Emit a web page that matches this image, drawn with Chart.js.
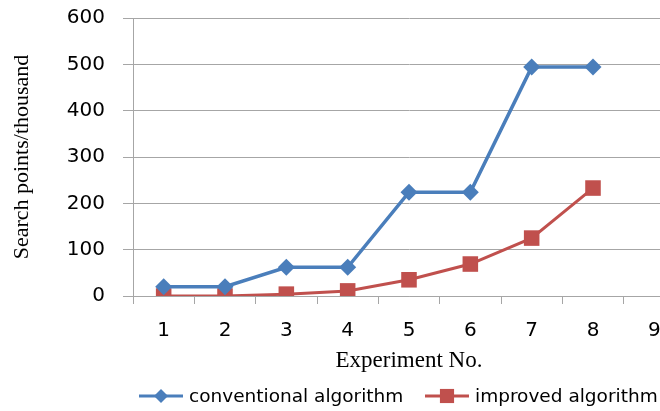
<!DOCTYPE html>
<html>
<head>
<meta charset="utf-8">
<script src="https://cdn.jsdelivr.net/npm/chart.js@4"></script>
<style>
  html, body { margin: 0; padding: 0; background: #fff; overflow: hidden; }
  #wrap { width: 696px; height: 411px; }
</style>
</head>
<body>
<div id="wrap"><canvas id="chart" width="696" height="411"></canvas></div>
<script>
const experiments = ['1', '2', '3', '4', '5', '6', '7', '8', '9'];
const conventional = [20, 20, 62, 62, 224, 224, 494, 494];
const improved = [0, 0, 4, 11, 35, 69, 125, 233];
const yTicks = [0, 100, 200, 300, 400, 500, 600];

const blue = '#4a7ebb';
const red = '#c0504d';
const gridGray = '#a6a6a6';

// legend drawn by hand: line with marker, then text
const lineLegend = {
  id: 'lineLegend',
  afterDraw(chart) {
    const ctx = chart.ctx;
    const y = 396;
    const items = [
      { x: 139, ds: chart.data.datasets[0], r: 7 },
      { x: 425, ds: chart.data.datasets[1], r: 10 }
    ];
    ctx.save();
    ctx.font = '18.5px "DejaVu Sans"';
    ctx.textBaseline = 'middle';
    items.forEach(function(it) {
      const ds = it.ds;
      ctx.strokeStyle = ds.borderColor;
      ctx.lineWidth = 3;
      ctx.beginPath();
      ctx.moveTo(it.x, y);
      ctx.lineTo(it.x + 44, y);
      ctx.stroke();
      ctx.fillStyle = ds.backgroundColor;
      Chart.helpers.drawPoint(ctx, {
        pointStyle: ds.pointStyle,
        radius: it.r,
        rotation: 0,
        borderWidth: 0
      }, it.x + 22, y);
      ctx.fillStyle = '#000';
      ctx.fillText(ds.label, it.x + 50, y + 1);
    });
    ctx.restore();
  }
};

function noPad(s) {
  s.paddingTop = 0;
  s.paddingBottom = 0;
  s.paddingLeft = 0;
  s.paddingRight = 0;
}

new Chart(document.getElementById('chart'), {
  type: 'line',
  data: {
    labels: experiments,
    datasets: [{
      label: 'conventional algorithm',
      data: conventional,
      borderColor: blue,
      backgroundColor: blue,
      borderWidth: 3.5,
      pointStyle: 'rectRot',
      pointRadius: 8.5,
      pointBorderWidth: 0,
      tension: 0
    }, {
      label: 'improved algorithm',
      data: improved,
      borderColor: red,
      backgroundColor: red,
      borderWidth: 3,
      pointStyle: 'rect',
      pointRadius: 11,
      pointBorderWidth: 0,
      tension: 0
    }]
  },
  options: {
    responsive: false,
    devicePixelRatio: 1,
    animation: false,
    layout: { padding: { top: 18, bottom: 35, left: 0, right: 0 } },
    plugins: {
      legend: { display: false },
      tooltip: { enabled: false }
    },
    scales: {
      x: {
        type: 'category',
        offset: true,
        afterFit: function(s) { s.height = 80; noPad(s); },
        grid: {
          offset: true,
          drawOnChartArea: false,
          drawTicks: true,
          tickLength: 8,
          color: gridGray
        },
        border: { color: gridGray },
        ticks: {
          color: '#000',
          padding: 15,
          font: { family: 'DejaVu Sans', size: 20 }
        },
        title: {
          display: true,
          text: 'Experiment No.',
          color: '#000',
          padding: { top: 0, bottom: 1 },
          font: { family: 'Liberation Serif', size: 23 }
        }
      },
      y: {
        min: 0,
        max: 600,
        afterFit: function(s) { s.width = 133; noPad(s); },
        afterBuildTicks: function(s) { s.ticks = yTicks.map(function(v) { return { value: v }; }); },
        grid: {
          color: gridGray,
          tickLength: 10
        },
        border: { color: gridGray },
        ticks: {
          color: '#000',
          padding: 18,
          font: { family: 'DejaVu Sans', size: 20 }
        },
        title: {
          display: true,
          text: 'Search points/thousand',
          color: '#000',
          padding: { top: 9, bottom: 0 },
          font: { family: 'Liberation Serif', size: 22 }
        }
      }
    }
  },
  plugins: [lineLegend]
});
</script>
</body>
</html>
